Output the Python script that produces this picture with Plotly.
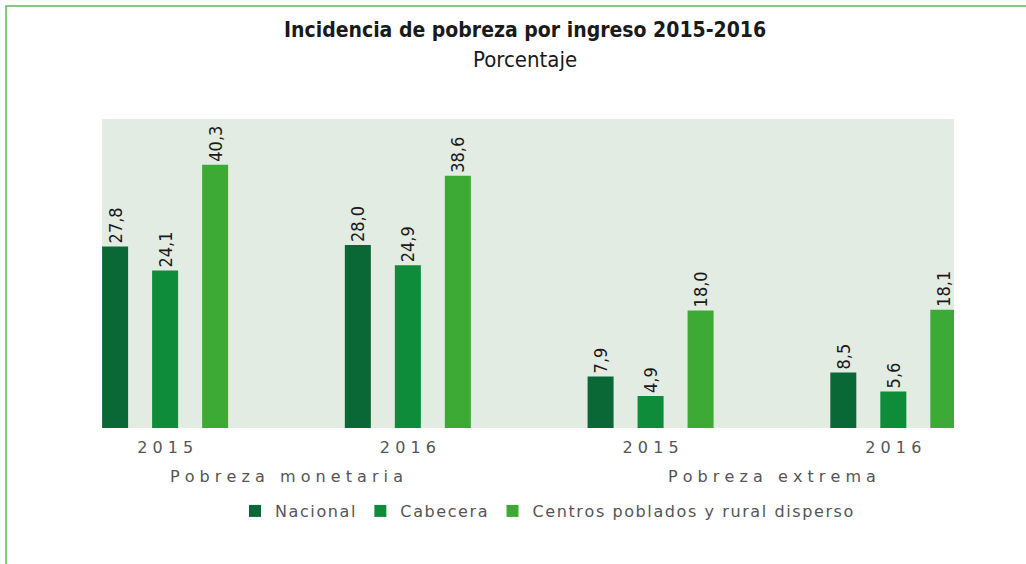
import plotly.graph_objects as go

groups = ["Pobreza monetaria", "Pobreza extrema"]
years = ["2015", "2016", "2015", "2016"]
series_names = ["Nacional", "Cabecera", "Centros poblados y rural disperso"]
nacional = [27.8, 28.0, 7.9, 8.5]
cabecera = [24.1, 24.9, 4.9, 5.6]
centros = [40.3, 38.6, 18.0, 18.1]
colors = ["#0a6836", "#0e8c3a", "#3daa35"]

title = "Incidencia de pobreza por ingreso 2015-2016"
subtitle = "Porcentaje"

COND = "DejaVu Sans Condensed, Liberation Sans Narrow, Arial Narrow"
WIDE = "DejaVu Sans, Verdana"


def spaced(s, gap=" ", wordgap="   "):
    return wordgap.join(gap.join(list(w)) for w in s.split(" "))


def tracked(s):
    return "\u200a".join(list(s))


xpos = list(range(len(years)))
fig = go.Figure()
for name, vals, col in zip(series_names, [nacional, cabecera, centros], colors):
    fig.add_trace(go.Bar(
        x=xpos, y=vals, name=tracked(name), marker=dict(color=col, line=dict(width=0)),
        text=[f"{v:.1f}".replace(".", ",") for v in vals],
        textposition="outside", textangle=-90, constraintext="none",
        cliponaxis=False,
        textfont=dict(family=COND, size=18, color="#1a1a1a"),
    ))

L, R, T, B = 102, 72, 119, 136
W, H = 1026, 564
pw, ph = W - L - R, H - T - B

def px_x(p):
    return (p - L) / pw

def px_y(p):
    return (H - B - p) / ph

annotations = [
    dict(text=f"<b>{title}</b>", x=px_x(525), y=px_y(30), xref="paper", yref="paper",
         showarrow=False, xanchor="center", yanchor="middle",
         font=dict(family=COND, size=21, color="#1a1a1a")),
    dict(text=subtitle, x=px_x(525), y=px_y(60), xref="paper", yref="paper",
         showarrow=False, xanchor="center", yanchor="middle",
         font=dict(family=COND, size=22, color="#1a1a1a")),
]
for gi, g in enumerate(groups):
    annotations.append(dict(
        text=spaced(g), x=gi * 2 + 0.5, y=px_y(476), xref="x", yref="paper",
        showarrow=False, xanchor="center", yanchor="middle",
        font=dict(family=WIDE, size=16, color="#555555")))

fig.update_layout(
    width=W, height=H,
    margin=dict(l=L, r=R, t=T, b=B),
    paper_bgcolor="white", plot_bgcolor="#e2ece2",
    barmode="group", bargap=0.382, bargroupgap=0.48,
    showlegend=True,
    legend=dict(orientation="h", x=px_x(547), y=px_y(511), xanchor="center", yanchor="middle",
                font=dict(family=WIDE, size=16, color="#555555"),
                itemsizing="constant", traceorder="normal", itemwidth=30),
    xaxis=dict(range=[-0.26, 3.25], tickvals=xpos, ticktext=[spaced(y) for y in years],
               tickfont=dict(family=WIDE, size=16, color="#555555"),
               showgrid=False, zeroline=False, showline=False, ticks="", ticklabelstandoff=8),
    yaxis=dict(range=[0, 47.3], visible=False, showgrid=False, zeroline=False),
    annotations=annotations,
    shapes=[dict(type="rect", xref="paper", yref="paper",
                 x0=px_x(6), x1=1.3, y0=-0.6, y1=px_y(6),
                 line=dict(color="#5cb85c", width=1.5), fillcolor="rgba(0,0,0,0)", layer="below")],
)

fig.write_html("out.html", config={"displayModeBar": False},
               post_script="document.body.style.margin='0px';document.body.style.overflow='hidden';")
